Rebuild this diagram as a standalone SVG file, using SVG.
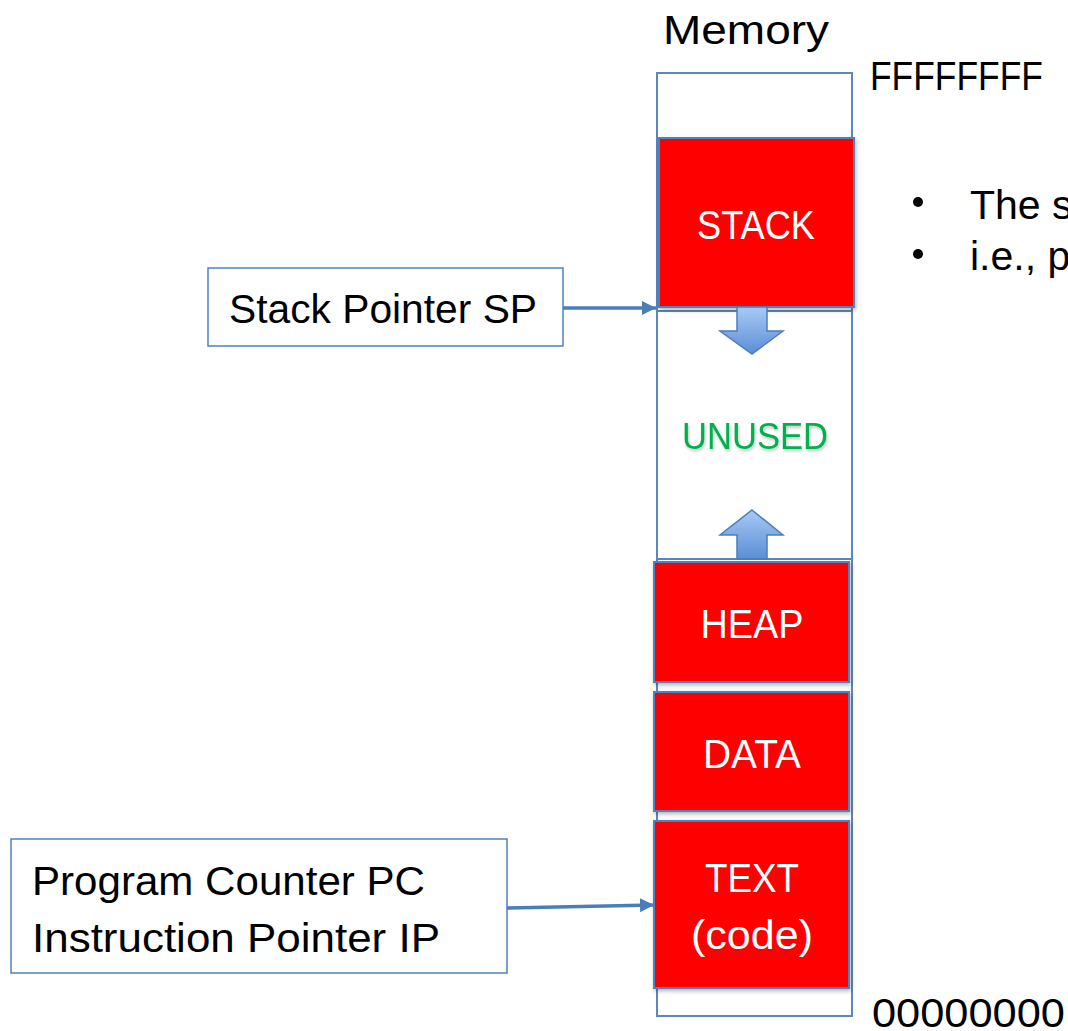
<svg xmlns="http://www.w3.org/2000/svg" width="1068" height="1031" viewBox="0 0 1068 1031">
<style>
text{font-family:"Liberation Sans",Arial,sans-serif;}
.blk{fill:#000;font-size:41px;}
.seg{fill:#ff0000;stroke:#4f81bd;stroke-width:2;filter:url(#sh);}
.segt{fill:#fff;font-size:40px;text-anchor:middle;}
.outline{fill:none;stroke:#5b86c0;stroke-width:2;}
.box{fill:#fff;stroke:#4f81bd;stroke-width:1.5;}
.conn{stroke:#4a7ebb;stroke-width:3.5;fill:none;}
.barrow{fill:url(#bg);stroke:#4a7ebb;stroke-width:1.5;}
</style>
<defs>
<linearGradient id="bg" x1="0" y1="0" x2="0" y2="1">
<stop offset="0" stop-color="#a8c9f5"/>
<stop offset="1" stop-color="#5b8ed5"/>
</linearGradient>
<filter id="sh" x="-5%" y="-5%" width="115%" height="115%">
<feDropShadow dx="1" dy="2" stdDeviation="2" flood-color="#000" flood-opacity="0.3"/>
</filter>
<filter id="tsh" x="-5%" y="-20%" width="115%" height="150%">
<feDropShadow dx="1" dy="2" stdDeviation="1.5" flood-color="#000" flood-opacity="0.25"/>
</filter>
<marker id="ah" viewBox="0 0 10 10" refX="10" refY="5" markerWidth="4" markerHeight="4" markerUnits="strokeWidth" orient="auto">
<path d="M0,0 L10,5 L0,10 Z" fill="#4a7ebb"/>
</marker>
</defs>
<rect width="1068" height="1031" fill="#fff"/>

<g id="memory-title"><text class="blk" x="746" y="44" text-anchor="middle" textLength="166" lengthAdjust="spacingAndGlyphs">Memory</text></g>
<g id="addr-top"><text class="blk" x="870" y="90" font-size="39" textLength="173" lengthAdjust="spacingAndGlyphs">FFFFFFFF</text></g>
<g id="addr-bottom"><text class="blk" x="872" y="1027" font-size="39" textLength="193" lengthAdjust="spacingAndGlyphs">00000000</text></g>

<g id="bullets">
<circle cx="918" cy="202" r="5" fill="#000"/>
<text class="blk" x="970" y="219" font-size="42">The s</text>
<circle cx="918" cy="254" r="5" fill="#000"/>
<text class="blk" x="970" y="270" font-size="42">i.e., p</text>
</g>

<g id="memory">
<rect class="outline" x="657" y="73" width="195" height="943"/>
<rect class="outline" x="657" y="311" width="195" height="248"/>
</g>

<g id="stack">
<rect class="seg" x="659" y="138" width="195" height="169"/>
<text class="segt" x="756" y="239" textLength="118" lengthAdjust="spacingAndGlyphs">STACK</text>
</g>

<g id="unused">
<text x="755" y="449" fill="#00b050" font-size="36" text-anchor="middle" filter="url(#tsh)" textLength="146" lengthAdjust="spacingAndGlyphs">UNUSED</text>
<path class="barrow" d="M737,307 H767 V331 H783 L752,354 L720,331 H737 Z"/>
<path class="barrow" d="M752,510 L783,535 H767 V559 H737 V535 H720 Z"/>
</g>

<g id="heap">
<rect class="seg" x="654" y="562" width="195" height="120"/>
<text class="segt" x="752" y="638" textLength="103" lengthAdjust="spacingAndGlyphs">HEAP</text>
</g>

<g id="data">
<rect class="seg" x="654" y="692" width="195" height="119"/>
<text class="segt" x="752" y="768" textLength="98" lengthAdjust="spacingAndGlyphs">DATA</text>
</g>

<g id="text-seg">
<rect class="seg" x="654" y="821" width="195" height="167"/>
<text class="segt" x="752" y="892" textLength="94" lengthAdjust="spacingAndGlyphs">TEXT</text>
<text class="segt" x="752" y="949" textLength="122" lengthAdjust="spacingAndGlyphs">(code)</text>
</g>

<g id="sp-box">
<rect class="box" x="208" y="268" width="355" height="78"/>
<text class="blk" x="229" y="323" textLength="308" lengthAdjust="spacingAndGlyphs">Stack Pointer SP</text>
</g>

<g id="pc-box">
<rect class="box" x="11" y="839" width="496" height="134"/>
<text class="blk" x="32" y="895" textLength="393" lengthAdjust="spacingAndGlyphs">Program Counter PC</text>
<text class="blk" x="32" y="952" textLength="408" lengthAdjust="spacingAndGlyphs">Instruction Pointer IP</text>
</g>

<g id="connectors">
<line class="conn" x1="563" y1="308" x2="656" y2="308" marker-end="url(#ah)"/>
<line class="conn" x1="507" y1="908" x2="654" y2="905" marker-end="url(#ah)"/>
</g>
</svg>
